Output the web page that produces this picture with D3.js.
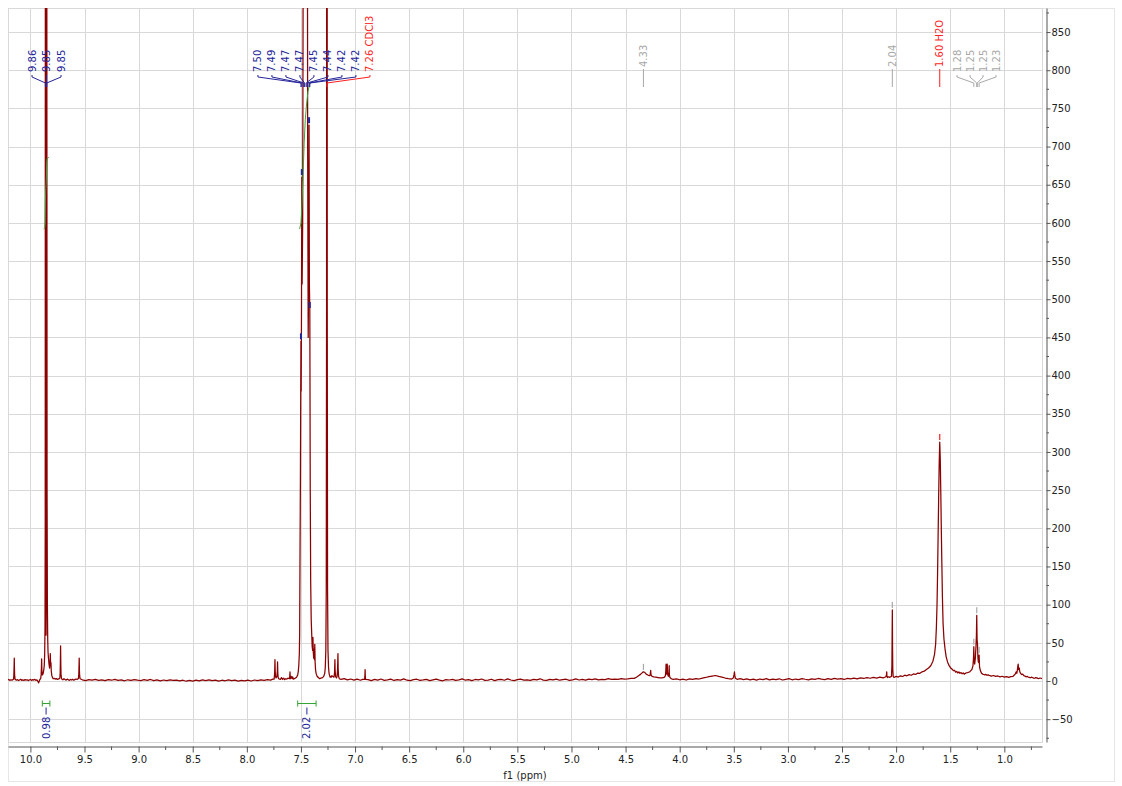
<!DOCTYPE html>
<html><head><meta charset="utf-8">
<script src="https://cdn.jsdelivr.net/npm/d3@7"></script>
<style>body{margin:0;background:#fff;} svg{display:block;font-family:"DejaVu Sans",sans-serif;}</style>
</head><body>
<svg id="chart" width="1122" height="786"></svg>
<script>
// ---------------- DATA ----------------
// 1H NMR spectrum, [ppm, intensity]
const spectrum = [
[10.21,1.2],[10.20,2.0],[10.19,0.8],[10.18,1.6],[10.17,1.0],[10.16,2.1],
[10.155,2.4],[10.153,8],[10.151,18],[10.149,30],[10.147,14],[10.145,6],[10.141,2.2],
[10.13,1.0],[10.12,1.8],[10.11,0.6],[10.10,1.4],[10.09,2.2],[10.08,0.9],[10.07,1.5],[10.06,0.7],[10.05,1.9],[10.04,1.1],[10.03,1.6],[10.02,0.5],[10.01,1.3],[10.00,2.0],[9.99,0.8],[9.98,1.7],[9.97,1.2],[9.96,2.1],[9.95,0.9],[9.94,1.4],[9.93,-0.5],[9.925,-2.5],[9.92,-1.0],[9.915,1.2],[9.91,2.5],[9.905,3.0],
[9.901,8],[9.898,18],[9.896,29],[9.894,15],[9.891,8],
[9.887,8],[9.882,10],[9.877,14],[9.872,20],[9.868,35],[9.865,70],[9.863,200],[9.862,900],[9.861,2500],[9.860,900],[9.858,250],[9.856,90],[9.855,60],[9.854,90],[9.852,300],[9.851,900],[9.850,2500],[9.849,2500],[9.848,900],[9.846,250],[9.843,100],[9.840,55],[9.837,38],[9.833,30],[9.828,22],[9.823,17],
[9.819,22],[9.816,36],[9.813,20],[9.810,24],[9.807,13],[9.802,7],[9.796,4.5],[9.790,3],[9.78,3.5],[9.77,2.5],[9.76,3.2],[9.75,2.0],[9.74,2.8],
[9.728,3.5],[9.725,10],[9.723,25],[9.721,46],[9.719,22],[9.717,9],[9.713,4],[9.71,2.5],
[9.70,1.5],[9.69,3.0],[9.68,2.0],[9.67,1.2],[9.66,2.4],[9.65,1.6],[9.64,0.8],[9.63,2.0],[9.62,1.3],[9.61,2.2],[9.60,1.0],[9.59,1.8],[9.58,2.6],[9.57,2.2],[9.56,2.8],
[9.556,3.5],[9.553,9],[9.551,18],[9.549,30],[9.547,14],[9.545,7],[9.541,3],
[9.52,1.6],[9.49,0.6],[9.46,1.9],[9.43,1.1],[9.40,2.2],[9.37,0.9],[9.34,1.5],[9.31,0.4],[9.28,1.8],[9.25,1.0],[9.22,2.1],[9.19,0.7],[9.16,1.4],[9.13,0.3],[9.10,1.6],[9.07,0.8],[9.04,1.9],[9.01,1.0],[8.98,0.4],[8.95,1.7],[8.92,0.9],[8.89,2.0],[8.86,0.6],[8.83,1.4],[8.80,0.2],[8.77,1.3],[8.74,0.5],[8.71,1.6],[8.68,0.7],[8.65,1.2],[8.62,0.1],[8.59,1.0],[8.56,-0.3],[8.53,0.8],[8.50,-0.2],[8.47,1.1],[8.44,0.2],[8.41,1.4],[8.38,0.5],[8.35,1.6],[8.32,0.4],[8.29,1.2],[8.26,-0.1],[8.23,1.0],[8.20,0.3],[8.17,1.5],[8.14,0.6],[8.11,1.2],[8.08,-0.2],[8.05,0.9],[8.02,0.1],[7.99,1.1],[7.96,0.0],[7.93,1.3],[7.90,0.4],[7.87,1.6],[7.84,0.8],[7.81,1.9],[7.78,1.2],[7.76,2.4],
[7.748,2.5],[7.744,8],[7.742,16],[7.740,28],[7.738,13],[7.735,6],[7.730,4],[7.722,6],[7.718,13],[7.716,25],[7.714,12],[7.711,5],[7.705,3],
[7.69,2.0],[7.68,4.5],[7.67,2.2],[7.66,3.6],[7.65,1.8],[7.64,3.0],[7.63,2.4],[7.62,3.8],
[7.606,3],[7.603,7],[7.601,12],[7.599,6],[7.596,3],[7.59,4],[7.585,6],[7.58,3],[7.575,5],[7.57,2.5],[7.56,3],[7.55,4],[7.54,5],[7.53,8],[7.525,12],[7.52,20],[7.515,35],[7.512,60],
[7.509,150],[7.505,260],[7.502,380],[7.500,445],[7.498,380],[7.495,480],[7.492,660],[7.489,520],[7.484,600],[7.480,900],[7.477,1500],[7.474,2500],[7.470,1400],[7.466,2200],[7.462,1200],[7.458,900],[7.455,1200],[7.452,1800],[7.448,1100],[7.443,1500],[7.438,700],[7.433,450],[7.429,520],[7.425,728],[7.422,520],[7.418,486],[7.414,250],[7.410,130],[7.405,80],
[7.400,60],[7.396,45],[7.392,40],[7.389,57],[7.386,38],[7.382,30],[7.378,42],[7.375,28],[7.372,48],[7.369,25],[7.365,15],[7.360,10],[7.355,8],[7.35,6],[7.345,5],[7.34,5],[7.335,4],[7.33,3],[7.32,3.5],[7.31,4],[7.30,4.5],[7.29,6],[7.28,10],[7.275,18],[7.270,40],[7.266,120],[7.263,500],[7.261,3000],[7.259,3000],[7.257,500],[7.254,120],[7.250,40],[7.245,18],[7.240,10],[7.235,7],
[7.23,5],[7.225,6],[7.22,5],[7.215,7],
[7.195,5],[7.190,10],[7.188,18],[7.186,28],[7.184,14],[7.180,6],[7.172,4],[7.166,6],[7.162,14],[7.160,24],[7.158,36],[7.156,16],[7.152,6],[7.145,3],
[7.13,2.0],[7.10,3.2],[7.07,1.5],[7.04,2.6],[7.01,1.2],[6.98,2.4],[6.95,1.0],[6.93,2.2],
[6.912,2],[6.909,6],[6.907,15],[6.905,6],[6.902,2],
[6.88,1.8],[6.85,0.6],[6.82,2.2],[6.79,1.1],[6.76,2.6],[6.73,0.9],[6.70,1.5],[6.67,2.4],[6.64,0.7],[6.61,1.9],[6.58,1.2],[6.55,2.8],[6.52,1.0],[6.49,0.4],[6.46,1.7],[6.43,2.3],[6.40,0.8],[6.37,1.4],[6.34,2.1],[6.31,0.5],[6.28,1.6],[6.25,2.5],[6.22,1.1],[6.19,0.3],[6.16,1.9],[6.13,1.3],[6.10,2.2],[6.07,0.7],[6.04,1.5],[6.01,2.7],[5.98,1.0],[5.95,1.8],[5.92,0.6],[5.89,2.0],[5.86,1.4],[5.83,2.6],[5.80,0.9],[5.77,1.2],[5.74,2.3],[5.71,0.5],[5.68,1.7],[5.65,2.1],[5.62,1.0],[5.59,2.8],[5.56,1.3],[5.53,0.6],[5.50,1.9],[5.47,2.4],[5.44,1.1],[5.41,1.6],[5.38,0.8],[5.35,2.2],[5.32,1.5],[5.29,2.9],[5.26,1.2],[5.23,0.7],[5.20,2.0],[5.17,1.4],[5.14,2.5],[5.11,1.0],[5.08,1.8],[5.05,2.3],[5.02,0.9],[4.99,1.6],[4.96,2.7],[4.93,1.3],[4.90,2.0],[4.87,1.1],[4.84,2.4],[4.81,1.7],[4.78,2.9],[4.75,1.5],[4.72,2.2],[4.69,1.8],[4.66,3.0],[4.63,2.1],[4.60,2.6],[4.57,2.0],[4.54,3.1],[4.51,2.4],[4.48,2.8],[4.45,3.3],
[4.42,3.5],[4.40,5],[4.38,7],[4.36,9],[4.345,11],[4.335,12],[4.325,11.5],[4.31,9],[4.29,7.5],[4.275,7],[4.271,10],[4.268,14],[4.265,8],[4.255,6],[4.24,5.5],[4.22,5],[4.20,4.5],[4.18,4],[4.16,4.2],[4.14,5],[4.132,7],[4.128,14],[4.126,22],[4.124,10],[4.120,9],[4.117,14],[4.115,22],[4.112,9],[4.105,6],[4.099,12],[4.097,20],[4.095,8],[4.09,4.5],[4.08,3.2],
[4.06,2.0],[4.03,2.9],[4.00,1.6],[3.97,2.5],[3.94,1.3],[3.91,2.8],[3.88,2.0],[3.85,3.2],[3.82,2.6],[3.79,3.8],[3.76,4.6],[3.73,5.8],[3.70,6.5],[3.67,7.2],[3.64,6.0],[3.61,5.2],[3.58,3.9],[3.55,3.2],[3.52,2.6],[3.505,4],[3.498,8],[3.494,12],[3.490,7],[3.485,3.5],
[3.47,2.2],[3.44,3.0],[3.41,1.8],[3.38,2.7],[3.35,1.5],[3.32,2.4],[3.29,1.2],[3.26,2.6],[3.23,1.9],[3.20,3.0],[3.17,1.4],[3.14,2.5],[3.11,1.7],[3.08,2.9],[3.05,1.3],[3.02,2.2],[2.99,3.1],[2.96,1.6],[2.93,2.6],[2.90,1.9],[2.87,3.2],[2.84,2.3],[2.81,1.5],[2.78,2.8],[2.75,2.0],[2.72,3.3],[2.69,2.4],[2.66,1.8],[2.63,3.0],[2.60,2.2],[2.57,3.5],[2.54,2.6],[2.51,3.2],[2.48,2.0],[2.45,3.4],[2.42,2.8],[2.39,3.9],[2.36,2.9],[2.33,4.2],[2.30,3.3],[2.27,4.5],[2.24,3.6],[2.21,4.8],[2.18,3.9],[2.15,5.0],[2.12,4.1],[2.10,5.2],
[2.092,6],[2.089,9],[2.087,12],[2.085,7],[2.08,4.5],[2.07,5.5],[2.06,4.8],[2.05,5.6],[2.043,6],[2.039,20],[2.037,60],[2.035,93],[2.033,45],[2.031,15],[2.027,6],
[2.02,4.6],[2.00,6.0],[1.98,5.2],[1.96,6.8],[1.94,5.9],[1.92,7.6],[1.90,6.8],[1.88,8.3],[1.86,7.5],[1.84,9.2],[1.82,8.6],[1.80,10.4],[1.78,10.0],[1.76,12.0],[1.74,12.8],[1.72,15.0],
[1.70,17],[1.68,20],[1.66,26],[1.645,35],[1.635,48],[1.628,70],[1.622,100],[1.617,140],[1.612,190],[1.607,240],[1.602,285],[1.597,313],[1.592,290],[1.587,245],[1.582,195],[1.577,150],[1.572,108],[1.566,75],[1.558,55],[1.548,42],[1.538,32],[1.525,25],[1.51,20],[1.495,17],[1.48,15],[1.47,13.5],[1.46,14],[1.45,11.5],[1.44,12.5],[1.43,10.5],[1.42,12],[1.41,10],[1.40,11],[1.39,9.5],[1.38,10.5],[1.37,9],[1.36,10],[1.35,10.8],[1.34,11],[1.33,11.5],[1.32,12],[1.31,13.5],[1.30,15],[1.29,20],
[1.285,30],[1.282,45],[1.279,25],[1.274,22],[1.268,30],[1.262,45],[1.258,60],[1.255,86],[1.252,55],[1.248,48],[1.244,30],[1.240,25],[1.236,24],[1.233,34],[1.229,18],
[1.22,13],[1.21,10],[1.20,9],[1.19,8.5],[1.18,8],[1.17,8.6],[1.16,7.5],[1.15,8.0],[1.14,7.4],[1.12,6.5],[1.10,7.2],[1.08,6.0],[1.06,6.6],[1.04,5.5],[1.02,6.2],[1.00,5.0],[0.98,5.8],[0.96,4.8],[0.94,5.6],[0.92,6.0],[0.91,7.5],[0.90,9],[0.89,12],[0.885,10],[0.88,14],[0.875,20],[0.872,22],[0.868,15],[0.862,17],[0.857,12],[0.85,10],[0.84,8.5],[0.83,9],[0.82,7],[0.81,6.5],[0.80,5.5],[0.79,6.0],[0.78,5.2],[0.77,4.8],[0.76,4.2],[0.75,5.0],[0.74,4.6],[0.73,3.8],[0.72,3.6],[0.71,4.4],[0.70,4.0],[0.69,3.4],[0.68,3.2],[0.67,3.9],[0.66,3.6],[0.65,3.0]
];

// integral curves [ppm, height in intensity units]
const integralCurveA = [[9.878,592],[9.868,593],[9.864,600],[9.861,630],[9.858,645],[9.855,650],[9.852,660],[9.849,680],[9.846,684],[9.836,685],[9.830,686]];
const integralCurveB = [[7.512,592],[7.500,600],[7.490,625],[7.479,669],[7.470,705],[7.460,735],[7.447,757],[7.435,772],[7.417,783],[7.392,785]];
// integration ranges and values
const integralFrom = [9.89, 7.53];
const integralTo = [9.82, 7.36];
const integralValues = ["0.98", "2.02"];

// multiplet label groups (text, peak ppm, kind)
const groupALabels = ["9.86","9.85","9.85"];
const groupAPpm = [9.861, 9.851, 9.849];
const groupAKind = ["peak","peak","peak"];
const groupBLabels = ["7.50","7.49","7.47","7.47","7.45","7.44","7.42","7.42","7.26 CDCl3"];
const groupBPpm = [7.500, 7.492, 7.474, 7.466, 7.452, 7.443, 7.425, 7.418, 7.260];
const groupBKind = ["peak","peak","peak","peak","peak","peak","peak","peak","solvent"];
const groupCLabels = ["1.28","1.25","1.25","1.23"];
const groupCPpm = [1.282, 1.255, 1.250, 1.233];
const groupCKind = ["impurity","impurity","impurity","impurity"];
// single-peak labels
const singleLabels = ["4.33", "2.04", "1.60 H2O"];
const singlePpm = [4.335, 2.035, 1.597];
const singleKind = ["impurity", "impurity", "solvent"];

// picked-peak markers (peak tops inside the view)
const pickedPpm = [7.500, 7.492, 7.425, 7.418, 4.335, 2.035, 1.597, 1.282, 1.255, 1.233];
const pickedHeight = [445, 660, 728, 486, 12, 93, 313, 45, 86, 34];
const pickedKind = ["peak","peak","peak","peak","impurity","impurity","solvent","impurity","impurity","impurity"];

// axis ticks
const xTickValues = [10.0, 9.5, 9.0, 8.5, 8.0, 7.5, 7.0, 6.5, 6.0, 5.5, 5.0, 4.5, 4.0, 3.5, 3.0, 2.5, 2.0, 1.5, 1.0];
const yTickValues = [-50, 0, 50, 100, 150, 200, 250, 300, 350, 400, 450, 500, 550, 600, 650, 700, 750, 800, 850];
const xAxisTitle = "f1 (ppm)";

// ---------------- DRAWING ----------------
const svg = d3.select("#chart");
const L = 8, R = 1042, T = 8, B = 742;
const x = d3.scaleLinear().domain([10.207, 0.652]).range([L, R]);
const y = d3.scaleLinear().domain([-79.9, 881.5]).range([B, T]);
const kindColor = {peak: "#25259a", solvent: "#ff1f1f", impurity: "#a8a8a8"};
const gridColor = "#d9d9d9";
const greenColor = "#36a336";
const specColor = "#8b0000";
const textColor = "#222";

// outer frame
svg.append("rect").attr("x", 8.5).attr("y", 8.5).attr("width", 1106).attr("height", 773)
  .attr("fill", "none").attr("stroke", "#e6e6e6");

// grid
const grid = svg.append("g");
grid.selectAll("line.v").data(xTickValues).join("line")
  .attr("x1", d => Math.round(x(d)) + 0.5).attr("x2", d => Math.round(x(d)) + 0.5)
  .attr("y1", T).attr("y2", B).attr("stroke", gridColor);
grid.selectAll("line.h").data(yTickValues).join("line")
  .attr("y1", d => Math.round(y(d)) + 0.5).attr("y2", d => Math.round(y(d)) + 0.5)
  .attr("x1", L).attr("x2", R).attr("stroke", gridColor);
svg.append("rect").attr("x", L + 0.5).attr("y", T + 0.5).attr("width", R - L).attr("height", B - T)
  .attr("fill", "none").attr("stroke", gridColor);

// clip
svg.append("defs").append("clipPath").attr("id", "plotclip")
  .append("rect").attr("x", L).attr("y", T).attr("width", R - L).attr("height", B - T);
const plot = svg.append("g").attr("clip-path", "url(#plotclip)");

const line = d3.line().x(d => x(d[0])).y(d => y(d[1]));

// spectrum
plot.append("path").attr("d", line(spectrum)).attr("fill", "none")
  .attr("stroke", specColor).attr("stroke-width", 1.25).attr("stroke-linejoin", "round");

// integral curves (drawn over the spectrum)
[integralCurveA, integralCurveB].forEach(c => {
  plot.append("path").attr("d", line(c)).attr("fill", "none").attr("stroke", greenColor).attr("stroke-width", 1);
});

// picked peak markers
pickedPpm.forEach((p, i) => {
  const px = x(p), py = y(pickedHeight[i]);
  plot.append("line").attr("x1", px).attr("x2", px).attr("y1", py - 8).attr("y2", py - 2)
    .attr("stroke", kindColor[pickedKind[i]]).attr("stroke-width", pickedKind[i] === "peak" ? 2 : 1.2);
});

// multiplet label groups
const labelBottom = 72;
function drawGroup(labels, ppms, kinds, centerPpm, spacing) {
  const n = labels.length;
  const cx = x(centerPpm);
  labels.forEach((t, i) => {
    const lx = cx + (i - (n - 1) / 2) * spacing;
    const px = x(ppms[i]);
    const col = kindColor[kinds[i]];
    svg.append("path")
      .attr("d", `M${lx},${labelBottom + 3}L${lx},${labelBottom + 5}L${px},${labelBottom + 11}L${px},${labelBottom + 15}`)
      .attr("fill", "none").attr("stroke", col).attr("stroke-width", 1);
    svg.append("text").attr("transform", `translate(${lx},${labelBottom}) rotate(-90)`)
      .attr("text-anchor", "start").attr("dominant-baseline", "central")
      .attr("font-size", 10).attr("fill", col).text(t);
  });
}
drawGroup(groupALabels, groupAPpm, groupAKind, 9.851, 14.5);
drawGroup(groupBLabels, groupBPpm, groupBKind, 7.380, 14);
drawGroup(groupCLabels, groupCPpm, groupCKind, 1.257, 13);

// single labels
singleLabels.forEach((t, i) => {
  const px = x(singlePpm[i]);
  const col = kindColor[singleKind[i]];
  svg.append("line").attr("x1", px).attr("x2", px).attr("y1", 69).attr("y2", 87)
    .attr("stroke", col).attr("stroke-width", 1);
  svg.append("text").attr("transform", `translate(${px},67) rotate(-90)`)
    .attr("text-anchor", "start").attr("dominant-baseline", "central")
    .attr("font-size", 10).attr("fill", col).text(t);
});

// integration brackets and values
integralValues.forEach((v, i) => {
  const x1 = x(integralFrom[i]), x2 = x(integralTo[i]), cx = (x1 + x2) / 2;
  const by = 703.5;
  const g = svg.append("g").attr("stroke", greenColor).attr("stroke-width", 1);
  g.append("line").attr("x1", x1).attr("x2", x2).attr("y1", by).attr("y2", by);
  g.append("line").attr("x1", x1).attr("x2", x1).attr("y1", by - 3).attr("y2", by + 3);
  g.append("line").attr("x1", x2).attr("x2", x2).attr("y1", by - 3).attr("y2", by + 3);
  svg.append("line").attr("x1", cx).attr("x2", cx).attr("y1", by + 4).attr("y2", by + 11)
    .attr("stroke", kindColor.peak).attr("stroke-width", 1);
  svg.append("text").attr("transform", `translate(${cx},739) rotate(-90)`)
    .attr("text-anchor", "start").attr("dominant-baseline", "central")
    .attr("font-size", 10).attr("fill", kindColor.peak).text(v);
});

// bottom axis
const xAxisG = svg.append("g").attr("transform", `translate(0,${B + 4.5})`)
  .call(d3.axisBottom(x).tickValues(xTickValues).tickFormat(d3.format(".1f")).tickSize(6).tickSizeOuter(0).tickPadding(3));
const minorX = d3.range(10.0, 0.7, -0.25).filter(v => Math.abs(v * 2 - Math.round(v * 2)) > 0.01);
xAxisG.selectAll("line.minor").data(minorX).join("line").attr("class", "minor")
  .attr("x1", d => x(d)).attr("x2", d => x(d)).attr("y1", 0).attr("y2", 3.5).attr("stroke", "#555");
xAxisG.select(".domain").attr("stroke", "#555");
xAxisG.selectAll(".tick line").attr("stroke", "#555");
xAxisG.selectAll("text").attr("font-size", 10).attr("fill", textColor).attr("font-family", "DejaVu Sans");

svg.append("text").attr("x", (L + R) / 2).attr("y", 779).attr("text-anchor", "middle")
  .attr("font-size", 10).attr("fill", textColor).text(xAxisTitle);

// right axis
const yAxisG = svg.append("g").attr("transform", `translate(1046.5,0)`)
  .call(d3.axisRight(y).tickValues(yTickValues).tickSize(4).tickSizeOuter(0).tickPadding(1));
const minorY = d3.range(-75, 881, 50);
yAxisG.selectAll("line.minor").data(minorY).join("line").attr("class", "minor")
  .attr("y1", d => y(d)).attr("y2", d => y(d)).attr("x1", 0).attr("x2", 2.5).attr("stroke", "#555");
yAxisG.select(".domain").attr("stroke", "#555");
yAxisG.selectAll(".tick line").attr("stroke", "#555");
yAxisG.selectAll("text").attr("font-size", 10).attr("fill", textColor).attr("font-family", "DejaVu Sans");
</script>
</body></html>
